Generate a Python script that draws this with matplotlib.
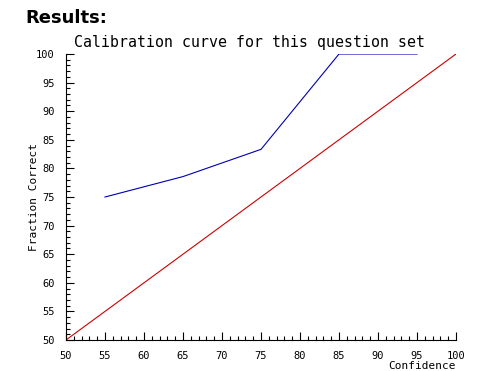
import numpy as np
import matplotlib
matplotlib.use("Agg")
import matplotlib.pyplot as plt
from matplotlib.ticker import MultipleLocator

# calibration data
confidence = [55, 65, 75, 85, 95]
fraction_correct = [75.0, 78.57, 83.33, 100.0, 100.0]
ideal_x = [50, 100]
ideal_y = [50, 100]

mono = "DejaVu Sans Mono"

fig = plt.figure(figsize=(4.85, 3.71), dpi=100)
ax = fig.add_axes([66 / 485, 1 - 340 / 371, 390 / 485, 286 / 371])

ax.plot(ideal_x, ideal_y, color="#cc0000", linewidth=0.8)
ax.plot(confidence, fraction_correct, color="#0000b0", linewidth=0.8)

ax.set_xlim(50, 100)
ax.set_ylim(50, 100)
ax.xaxis.set_major_locator(MultipleLocator(5))
ax.xaxis.set_minor_locator(MultipleLocator(1))
ax.yaxis.set_major_locator(MultipleLocator(5))
ax.yaxis.set_minor_locator(MultipleLocator(1))
ax.tick_params(which="major", direction="in", length=6, width=0.8, pad=8,
               labelsize=7.5)
ax.tick_params(which="minor", direction="in", length=3, width=0.8)
for lab in ax.get_xticklabels() + ax.get_yticklabels():
    lab.set_fontfamily(mono)

ax.spines["top"].set_visible(False)
ax.spines["right"].set_visible(False)

ax.set_xlabel("Confidence", fontfamily=mono, fontsize=8)
ax.xaxis.set_label_coords(1.0, -0.075)
ax.xaxis.label.set_horizontalalignment("right")
ax.set_ylabel("Fraction Correct", fontfamily=mono, fontsize=8)
ax.yaxis.set_label_coords(-0.069, 0.5)

fig.text(250 / 485, 1 - 42 / 371, "Calibration curve for this question set",
         fontfamily=mono, fontsize=10.7,
         ha="center", va="center")
fig.text(25 / 485, 1 - 18 / 371, "Results:", fontsize=13,
         fontweight="bold", ha="left", va="center")

fig.savefig("out.png", dpi=100)
